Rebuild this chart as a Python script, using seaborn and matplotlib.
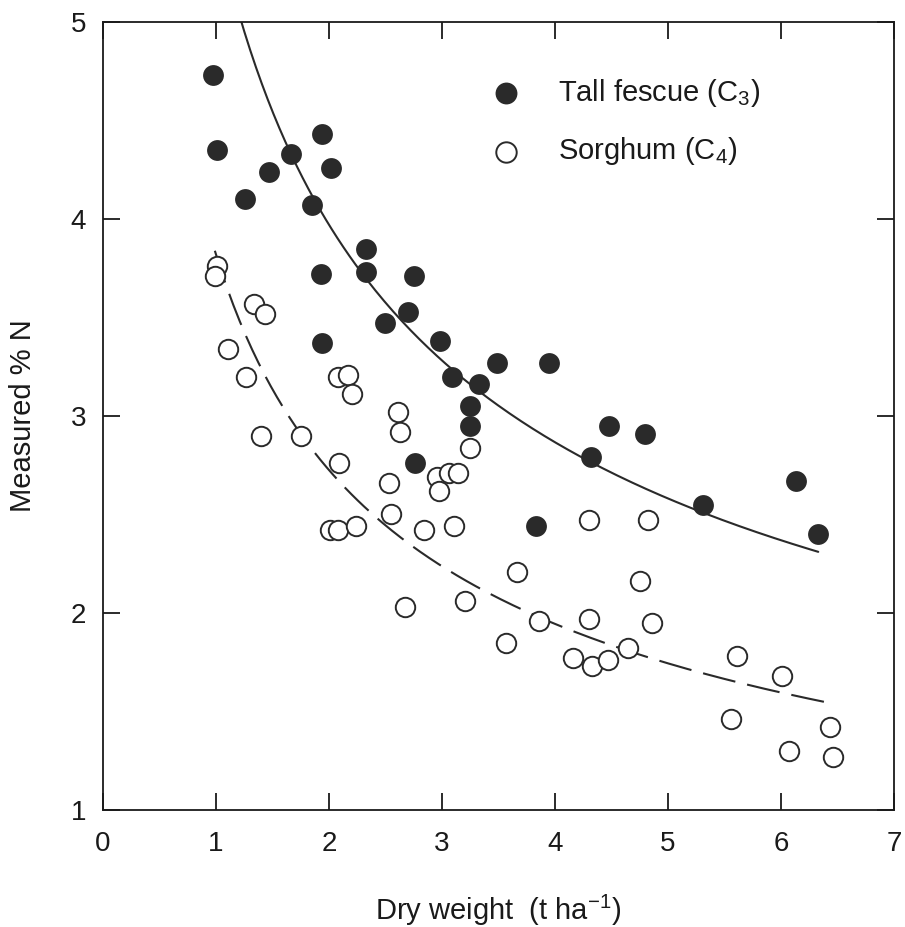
import numpy as np
import pandas as pd
import matplotlib
matplotlib.use("Agg")
import matplotlib.pyplot as plt
import seaborn as sns

# ---------------- data ----------------
fescue_x = [0.97, 1.01, 1.26, 1.47, 1.66, 1.94, 2.02, 1.85, 1.93, 1.94,
            2.33, 2.33, 2.75, 2.70, 2.50, 2.98, 3.09, 3.33, 3.49, 3.95,
            3.25, 3.25, 2.76, 3.83, 4.32, 4.48, 4.80, 5.31, 6.13, 6.33]
fescue_y = [4.73, 4.35, 4.10, 4.24, 4.33, 4.43, 4.26, 4.07, 3.72, 3.37,
            3.85, 3.73, 3.71, 3.53, 3.47, 3.38, 3.20, 3.16, 3.27, 3.27,
            3.05, 2.95, 2.76, 2.44, 2.79, 2.95, 2.91, 2.55, 2.67, 2.40]

sorghum_x = [1.01, 0.99, 1.34, 1.43, 1.11, 1.27, 2.08, 2.17, 2.20, 2.61,
             2.63, 1.40, 1.75, 2.09, 3.25, 2.53, 2.96, 3.06, 3.14, 2.97,
             2.55, 2.01, 2.08, 2.24, 2.84, 3.11, 2.67, 3.20, 3.57, 4.30,
             4.82, 3.66, 4.75, 3.86, 4.30, 4.86, 4.16, 4.33, 4.47, 4.65,
             5.61, 6.01, 5.56, 6.07, 6.43, 6.46]
sorghum_y = [3.76, 3.71, 3.57, 3.52, 3.34, 3.20, 3.20, 3.21, 3.11, 3.02,
             2.92, 2.90, 2.90, 2.76, 2.84, 2.66, 2.69, 2.71, 2.71, 2.62,
             2.50, 2.42, 2.42, 2.44, 2.42, 2.44, 2.03, 2.06, 1.85, 2.47,
             2.47, 2.21, 2.16, 1.96, 1.97, 1.95, 1.77, 1.73, 1.76, 1.82,
             1.78, 1.68, 1.46, 1.30, 1.42, 1.27]

# fitted dilution curves  %N = a * W^b  (coefficients)
fescue_fit = {"a": 5.5, "b": -0.47, "x_start": 1.20, "x_end": 6.33}
sorghum_fit = {"a": 3.82, "b": -0.487, "x_start": 0.99, "x_end": 6.46}

fescue_label = "Tall fescue (C$_3$)"
sorghum_label = "Sorghum (C$_4$)"
x_label = "Dry weight  (t ha$^{-1}$)"
y_label = "Measured % N"
x_ticks = [0, 1, 2, 3, 4, 5, 6, 7]
y_ticks = [1, 2, 3, 4, 5]

# ---------------- style ----------------
sns.set_theme(style="ticks")
plt.rcParams["font.family"] = ["Liberation Sans", "DejaVu Sans"]
plt.rcParams["mathtext.fontset"] = "custom"
plt.rcParams["mathtext.rm"] = "Liberation Sans"
plt.rcParams["mathtext.it"] = "Liberation Sans:italic"
plt.rcParams["mathtext.bf"] = "Liberation Sans:bold"

ink = "#2a2a2a"
txt = "#1a1a1a"

fig = plt.figure(figsize=(9.05, 9.27), dpi=100)
ax = fig.add_axes([0.1138, 0.1262, 0.8740, 0.8501])

df_f = pd.DataFrame({"x": fescue_x, "y": fescue_y})
df_s = pd.DataFrame({"x": sorghum_x, "y": sorghum_y})


def curve(p):
    xs = np.linspace(p["x_start"], p["x_end"], 200)
    return pd.DataFrame({"x": xs, "y": p["a"] * xs ** p["b"]})


sns.lineplot(data=curve(fescue_fit), x="x", y="y", ax=ax, color=ink,
             lw=1.5, legend=False)
sns.lineplot(data=curve(sorghum_fit), x="x", y="y", ax=ax, color=ink,
             lw=1.5, legend=False, dashes=False)
ax.lines[-1].set_dashes((16, 5.8))

sns.scatterplot(data=df_f, x="x", y="y", ax=ax, s=225, color=ink,
                edgecolor=ink, linewidth=0, label=fescue_label, zorder=3)
sns.scatterplot(data=df_s, x="x", y="y", ax=ax, s=196, facecolor="white",
                edgecolor=ink, linewidth=1.4, label=sorghum_label, zorder=4)

ax.set_xlim(0, 7)
ax.set_ylim(1, 5)
ax.set_xticks(x_ticks)
ax.set_yticks(y_ticks)
ax.set_xlabel(x_label, fontsize=21, labelpad=26, color=txt)
ax.set_ylabel(y_label, fontsize=21, labelpad=24, color=txt)

for s in ax.spines.values():
    s.set_visible(True)
    s.set_linewidth(1.3)
    s.set_color(txt)

ax.tick_params(axis="both", which="major", direction="in", length=12,
               width=1.3, color=txt, labelsize=20, labelcolor=txt,
               top=True, right=True)
ax.tick_params(axis="x", pad=15)
ax.tick_params(axis="y", pad=12)

leg = ax.legend(loc="upper left", bbox_to_anchor=(0.4905, 0.930),
                frameon=False, fontsize=21, handlelength=1.0,
                handletextpad=1.3, labelspacing=0.9, borderpad=0,
                borderaxespad=0, markerscale=1.05)
for t in leg.get_texts():
    t.set_color(txt)

fig.savefig("out.png", dpi=100)
